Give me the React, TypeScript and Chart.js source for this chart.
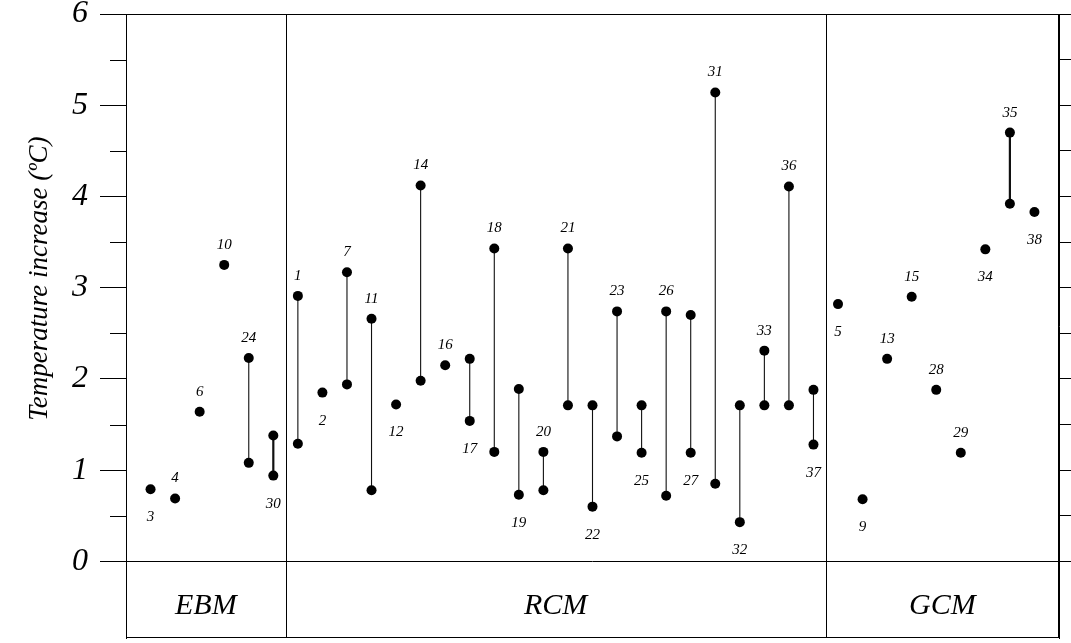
import { useEffect, useRef } from 'react';
import { Chart, registerables } from 'chart.js';

Chart.register(...registerables);

// Model numbers, in plotting order (left to right)
const modelIds = [
  '3', '4', '6', '10', '24', '30',
  '1', '2', '7', '11', '12', '14', '16', '17', '18', '19', '20', '21', '22', '23', '25', '26', '27', '31', '32', '33', '36', '37',
  '5', '9', '13', '15', '28', '29', '34', '35', '38',
];

// Upper (or single) temperature increase value, °C
const upperValues = [
  0.79, 0.69, 1.64, 3.25, 2.23, 1.38,
  2.91, 1.85, 3.17, 2.66, 1.72, 4.12, 2.15, 2.22, 3.43, 1.89, 1.20, 3.43, 1.71, 2.74, 1.71, 2.74, 2.70, 5.14, 1.71, 2.31, 4.11, 1.88,
  2.82, 0.68, 2.22, 2.90, 1.88, 1.19, 3.42, 4.70, 3.83,
];

// Lower value of a range (null = single estimate)
const lowerValues = [
  null, null, null, null, 1.08, 0.94,
  1.29, null, 1.94, 0.78, null, 1.98, null, 1.54, 1.20, 0.73, 0.78, 1.71, 0.60, 1.37, 1.19, 0.72, 1.19, 0.85, 0.43, 1.71, 1.71, 1.28,
  null, null, null, null, null, null, null, 3.92, null,
];

// Where each model number is written
const labelSides = [
  'below', 'above', 'above', 'above', 'above', 'below',
  'above', 'below', 'above', 'above', 'below', 'above', 'above', 'below', 'above', 'below', 'above', 'above', 'below', 'above', 'below', 'above', 'below', 'above', 'below', 'above', 'above', 'below',
  'below', 'below', 'above', 'above', 'above', 'above', 'below', 'above', 'below',
];

const thickRanges = ['30', '35'];

const groupNames = ['EBM', 'RCM', 'GCM'];
const groupEdges = [0, 6.5, 28.5, 38];

const yMajorTicks = [0, 1, 2, 3, 4, 5, 6];
const yMinorTicks = [0.5, 1.5, 2.5, 3.5, 4.5, 5.5];
const yRightTicks = [0, 0.5, 1, 1.5, 2, 2.5, 3, 3.5, 4, 4.5, 5, 5.5, 6];

const yTitle = 'Temperature increase (ºC)';

const FONT = '"Liberation Serif", "Times New Roman", serif';

const decorPlugin = {
  id: 'decor',
  afterDatasetsDraw(chart: any) {
    const { ctx, chartArea, scales } = chart;
    const { left, right, top, bottom } = chartArea;
    const x = scales.x;
    const y = scales.y;
    ctx.save();
    ctx.strokeStyle = '#000';
    ctx.lineWidth = 1;
    // frame
    ctx.strokeRect(left + 0.5, top + 0.5, right - left - 1, bottom - top - 1);
    // zero line
    const y0 = Math.round(y.getPixelForValue(0)) + 0.5;
    ctx.beginPath();
    ctx.moveTo(left, y0);
    ctx.lineTo(right, y0);
    ctx.stroke();
    // group dividers
    for (let i = 1; i < groupEdges.length - 1; i++) {
      const px = Math.round(x.getPixelForValue(groupEdges[i])) + 0.5;
      ctx.beginPath();
      ctx.moveTo(px, top);
      ctx.lineTo(px, bottom);
      ctx.stroke();
    }
    // minor ticks on left axis
    for (const v of yMinorTicks) {
      const py = Math.round(y.getPixelForValue(v)) + 0.5;
      ctx.beginPath();
      ctx.moveTo(left - 16, py);
      ctx.lineTo(left, py);
      ctx.stroke();
    }
    // group labels
    ctx.fillStyle = '#000';
    ctx.font = `italic 30px ${FONT}`;
    ctx.textAlign = 'center';
    ctx.textBaseline = 'middle';
    const gy = (y.getPixelForValue(0) + bottom) / 2 + 6;
    groupNames.forEach((name, i) => {
      const cx = (x.getPixelForValue(groupEdges[i]) + x.getPixelForValue(groupEdges[i + 1])) / 2;
      ctx.fillText(name, cx, gy);
    });
    // model number labels
    ctx.font = `italic 15px ${FONT}`;
    modelIds.forEach((id, i) => {
      const px = x.getPixelForValue(i + 1);
      if (labelSides[i] === 'above') {
        ctx.fillText(id, px, y.getPixelForValue(upperValues[i]) - 20);
      } else {
        const lv = lowerValues[i] ?? upperValues[i];
        ctx.fillText(id, px, y.getPixelForValue(lv) + 28);
      }
    });
    // y axis title
    ctx.font = `italic 27px ${FONT}`;
    ctx.translate(40, y.getPixelForValue(3.1));
    ctx.rotate(-Math.PI / 2);
    ctx.fillText(yTitle, 0, 0);
    ctx.restore();
  },
};

export default function App() {
  const ref = useRef<HTMLCanvasElement | null>(null);

  useEffect(() => {
    if (!ref.current) return;
    const rangeSets: any[] = [];
    modelIds.forEach((id, i) => {
      const lo = lowerValues[i];
      if (lo === null) return;
      rangeSets.push({
        type: 'scatter',
        showLine: true,
        data: [
          { x: i + 1, y: upperValues[i] },
          { x: i + 1, y: lo },
        ],
        borderColor: '#111',
        borderWidth: thickRanges.includes(id) ? 2.2 : 1.1,
        pointRadius: 0,
        order: 2,
      });
    });
    const points: any[] = [];
    modelIds.forEach((_, i) => {
      points.push({ x: i + 1, y: upperValues[i] });
      const lo = lowerValues[i];
      if (lo !== null) points.push({ x: i + 1, y: lo });
    });

    const noPad = (s: any) => {
      s.paddingTop = 0;
      s.paddingBottom = 0;
    };

    const chart = new Chart(ref.current, {
      type: 'scatter',
      data: {
        datasets: [
          {
            data: points,
            pointRadius: 5,
            pointHoverRadius: 5,
            backgroundColor: '#000',
            borderWidth: 0,
            order: 1,
          } as any,
          ...rangeSets,
        ],
      },
      options: {
        animation: false,
        responsive: false,
        layout: { padding: { top: 14, bottom: 4, left: 0, right: 0 } },
        plugins: {
          legend: { display: false },
          tooltip: { enabled: false },
        },
        events: [],
        scales: {
          x: {
            type: 'linear',
            min: groupEdges[0],
            max: groupEdges[groupEdges.length - 1],
            display: false,
          },
          y: {
            type: 'linear',
            position: 'left',
            min: -0.84,
            max: 6,
            afterBuildTicks: (s: any) => {
              s.ticks = yMajorTicks.map((v) => ({ value: v }));
            },
            afterFit: (s: any) => {
              s.width = 126;
              noPad(s);
            },
            grid: {
              drawOnChartArea: false,
              tickLength: 26,
              color: '#000',
              lineWidth: 1,
            },
            border: { display: true, color: '#000' },
            ticks: {
              color: '#000',
              padding: 12,
              font: { family: FONT, size: 32, style: 'italic' },
              callback: (v: any) => String(v),
            },
          },
          y2: {
            type: 'linear',
            position: 'right',
            min: -0.84,
            max: 6,
            afterBuildTicks: (s: any) => {
              s.ticks = yRightTicks.map((v) => ({ value: v }));
            },
            afterFit: (s: any) => {
              s.width = 12;
              noPad(s);
            },
            grid: {
              drawOnChartArea: false,
              tickLength: 12,
              color: '#000',
              lineWidth: 1,
            },
            border: { display: true, color: '#000' },
            ticks: { display: false },
          },
        },
      } as any,
      plugins: [decorPlugin],
    });
    return () => chart.destroy();
  }, []);

  return (
    <div style={{ position: 'absolute', left: 0, top: 0, width: 1071, height: 643, background: '#fff' }}>
      <canvas ref={ref} width={1071} height={643} style={{ display: 'block' }} />
    </div>
  );
}
